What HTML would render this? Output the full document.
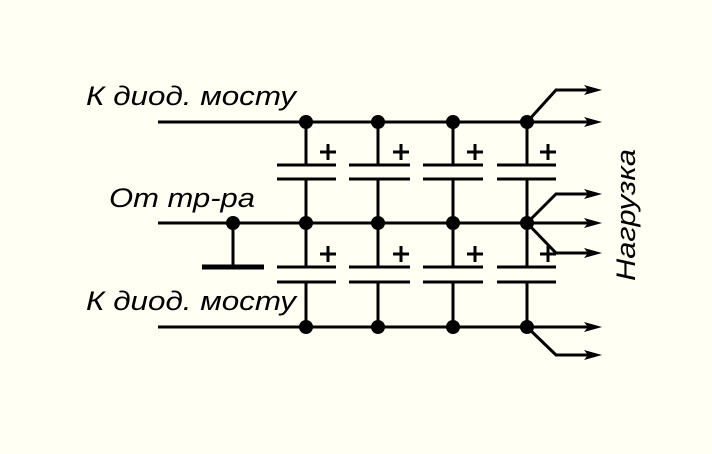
<!DOCTYPE html>
<html><head><style>
html,body{margin:0;padding:0;background:#fffff4;}
svg{display:block;}
text{font-family:"Liberation Sans",sans-serif;font-style:italic;font-size:27px;fill:#000;}
</style></head><body>
<svg width="712" height="454" viewBox="0 0 712 454">
<rect width="712" height="454" fill="#fffff4"/>
<g stroke="#000" stroke-width="3" fill="none">
<line x1="158" y1="122" x2="590" y2="122"/>
<line x1="158" y1="223" x2="590" y2="223"/>
<line x1="158" y1="327" x2="590" y2="327"/>
<!-- branches -->
<polyline points="527,122 556,90 590,90"/>
<polyline points="527,223 556,194 590,194"/>
<polyline points="527,223 556,253 590,253"/>
<polyline points="527,327 556,355 590,355"/>
<!-- ground -->
<line x1="233" y1="223" x2="233" y2="267"/>
<line x1="202" y1="267" x2="264" y2="267" stroke-width="5"/>
</g>
<g fill="#000">
<polygon points="602,90 584,85 588,90 584,95"/>
<polygon points="602,122 584,117 588,122 584,127"/>
<polygon points="602,194 584,189 588,194 584,199"/>
<polygon points="602,223 584,218 588,223 584,228"/>
<polygon points="602,253 584,248 588,253 584,258"/>
<polygon points="602,327 584,322 588,327 584,332"/>
<polygon points="602,355 584,350 588,355 584,360"/>
<circle cx="233" cy="223" r="7"/>
</g>
<g id="cols">
<g stroke="#000" stroke-width="3">
<!-- col template repeated -->
</g>
</g>
<g stroke="#000" stroke-width="3">
<line x1="306" y1="122" x2="306" y2="165"/><line x1="306" y1="179" x2="306" y2="267"/><line x1="306" y1="282" x2="306" y2="327"/>
<line x1="277" y1="165" x2="336" y2="165"/><line x1="277" y1="179" x2="336" y2="179"/>
<line x1="277" y1="267" x2="336" y2="267"/><line x1="277" y1="282" x2="336" y2="282"/>
<line x1="320" y1="152" x2="336" y2="152"/><line x1="328" y1="144" x2="328" y2="160"/>
<line x1="320" y1="254" x2="336" y2="254"/><line x1="328" y1="246" x2="328" y2="262"/>

<line x1="378" y1="122" x2="378" y2="165"/><line x1="378" y1="179" x2="378" y2="267"/><line x1="378" y1="282" x2="378" y2="327"/>
<line x1="349" y1="165" x2="410" y2="165"/><line x1="349" y1="179" x2="410" y2="179"/>
<line x1="349" y1="267" x2="410" y2="267"/><line x1="349" y1="282" x2="410" y2="282"/>
<line x1="393" y1="152" x2="409" y2="152"/><line x1="401" y1="144" x2="401" y2="160"/>
<line x1="393" y1="254" x2="409" y2="254"/><line x1="401" y1="246" x2="401" y2="262"/>

<line x1="453" y1="122" x2="453" y2="165"/><line x1="453" y1="179" x2="453" y2="267"/><line x1="453" y1="282" x2="453" y2="327"/>
<line x1="423" y1="165" x2="483" y2="165"/><line x1="423" y1="179" x2="483" y2="179"/>
<line x1="423" y1="267" x2="483" y2="267"/><line x1="423" y1="282" x2="483" y2="282"/>
<line x1="467" y1="152" x2="483" y2="152"/><line x1="475" y1="144" x2="475" y2="160"/>
<line x1="467" y1="254" x2="483" y2="254"/><line x1="475" y1="246" x2="475" y2="262"/>

<line x1="527" y1="122" x2="527" y2="165"/><line x1="527" y1="179" x2="527" y2="267"/><line x1="527" y1="282" x2="527" y2="327"/>
<line x1="497" y1="165" x2="556" y2="165"/><line x1="497" y1="179" x2="556" y2="179"/>
<line x1="497" y1="267" x2="556" y2="267"/><line x1="497" y1="282" x2="556" y2="282"/>
<line x1="540" y1="152" x2="556" y2="152"/><line x1="548" y1="144" x2="548" y2="160"/>
<line x1="540" y1="254" x2="556" y2="254"/><line x1="548" y1="246" x2="548" y2="262"/>
</g>
<g fill="#000">
<circle cx="306" cy="122" r="7"/><circle cx="378" cy="122" r="7"/><circle cx="453" cy="122" r="7"/><circle cx="527" cy="122" r="7"/>
<circle cx="306" cy="223" r="7"/><circle cx="378" cy="223" r="7"/><circle cx="453" cy="223" r="7"/><circle cx="527" cy="223" r="7"/>
<circle cx="306" cy="327" r="7"/><circle cx="378" cy="327" r="7"/><circle cx="453" cy="327" r="7"/><circle cx="527" cy="327" r="7"/>
</g>
<text x="86" y="105" textLength="210" lengthAdjust="spacingAndGlyphs">К диод. мосту</text>
<text x="109" y="207" textLength="146" lengthAdjust="spacingAndGlyphs">От тр-ра</text>
<text x="86" y="310" textLength="210" lengthAdjust="spacingAndGlyphs">К диод. мосту</text>
<text x="0" y="0" transform="translate(635,281) rotate(-90)" textLength="132" lengthAdjust="spacingAndGlyphs">Нагрузка</text>
</svg>
</body></html>
